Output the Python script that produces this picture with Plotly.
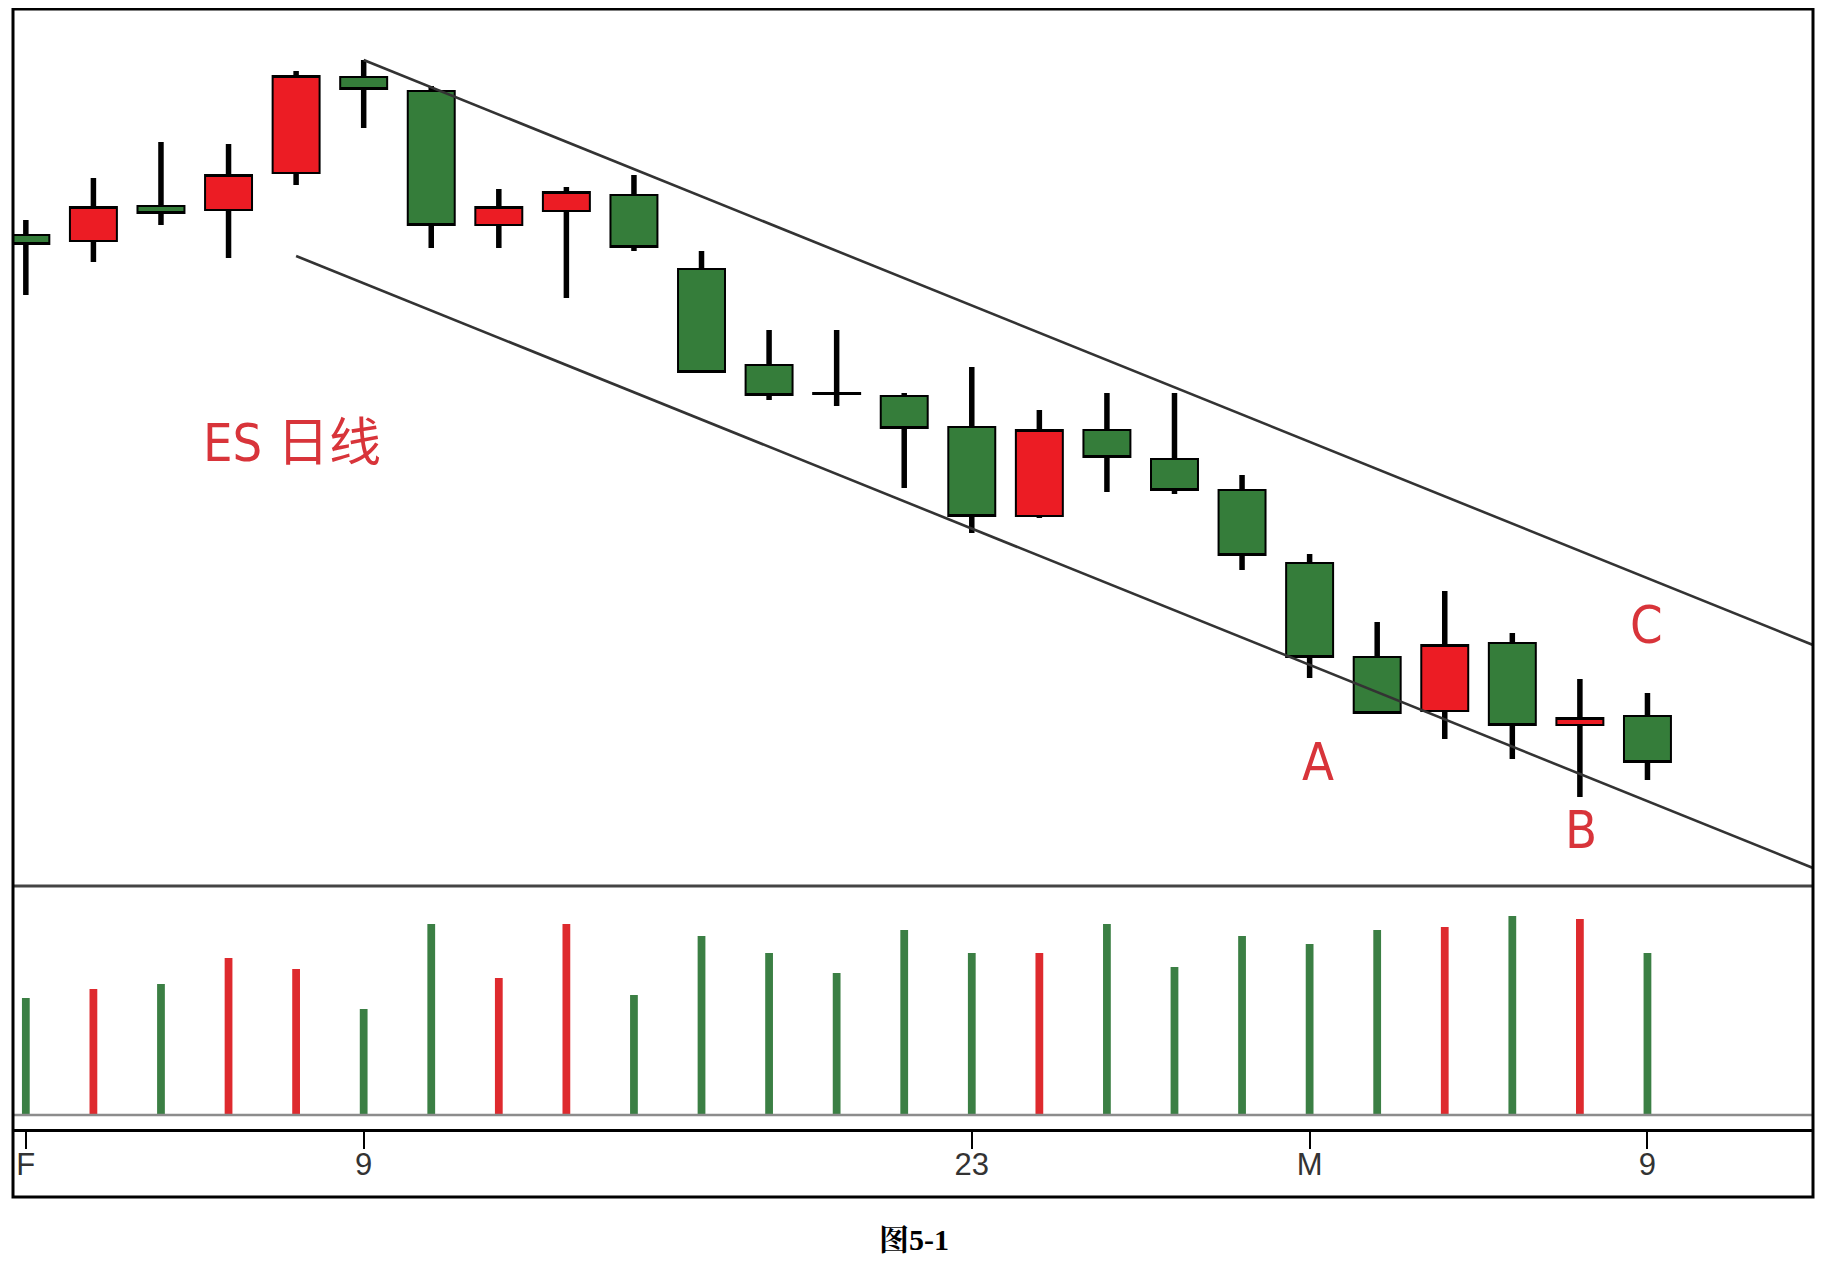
import plotly.graph_objects as go

# ES daily bars, price in index points (no axis labels in source)
bars = list(range(25))
tick_bars = [0, 5, 14, 19, 24]
tick_text = ["F", "9", "23", "M", "9"]

open_ = [1141.25, 1139.75, 1148.5, 1147.5, 1156.75, 1180.75, 1177.25, 1143.75, 1147.25, 1151.25,
         1132.75, 1108.75, 1101.75, 1101.0, 1093.25, 1071.0, 1092.5, 1085.25, 1077.5, 1059.25,
         1035.75, 1022.25, 1039.25, 1018.75, 1021.0]
high = [1145.0, 1155.5, 1164.5, 1164.0, 1182.25, 1185.0, 1178.5, 1152.75, 1153.25, 1156.25,
        1137.25, 1117.5, 1117.5, 1101.75, 1108.25, 1097.5, 1101.75, 1101.75, 1081.25, 1061.5,
        1044.5, 1052.25, 1041.75, 1030.25, 1026.75]
low = [1126.25, 1134.5, 1143.75, 1135.5, 1153.75, 1168.0, 1138.0, 1138.0, 1125.5, 1137.25,
       1107.0, 1100.0, 1098.5, 1078.0, 1066.75, 1070.5, 1077.0, 1076.5, 1057.5, 1030.5,
       1021.75, 1015.25, 1010.25, 1000.75, 1005.0]
close = [1139.0, 1148.25, 1146.75, 1156.25, 1181.0, 1177.75, 1143.75, 1148.25, 1152.0, 1138.25,
         1107.0, 1101.25, 1101.5, 1093.0, 1071.0, 1092.5, 1085.75, 1077.5, 1061.25, 1035.75,
         1021.75, 1038.75, 1018.75, 1020.5, 1009.5]
# volume, thousands of contracts
volume = [1170, 1260, 1310, 1570, 1460, 1060, 1910, 1370, 1910, 1200,
          1790, 1620, 1420, 1850, 1620, 1620, 1910, 1480, 1790, 1710,
          1850, 1880, 1990, 1960, 1620]

# down-sloping channel drawn on the chart
upper_x = [5, 26.45]
upper_y = [1185.0, 1038.75]
lower_x = [4, 26.45]
lower_y = [1136.0, 983.0]

labels = [
    ("ES 日线", 3.94, 1089.25),
    ("A", 19.12, 1009.5),
    ("B", 23.01, 992.5),
    ("C", 23.99, 1043.75),
]

RED = "#ec1c24"
GREEN = "#357d3a"
VOL_RED = "#de2a2e"
VOL_GREEN = "#3b7f44"
TEXT_RED = "#d8343a"
NARROW = "Liberation Sans Narrow, DejaVu Sans Condensed, Arial Narrow, Noto Sans CJK SC, sans-serif"

x_range = [-0.19, 26.45]

# wicks outside the body, so the thick stroke never crosses the filled box
wick_x, wick_y = [], []
for i, o, h, l, c in zip(bars, open_, high, low, close):
    wick_x += [i, i, None, i, i, None]
    wick_y += [h, max(o, c), None, min(o, c), l, None]

vol_colors = [VOL_RED if c > o else VOL_GREEN for o, c in zip(open_, close)]

fig = go.Figure()
fig.add_trace(go.Candlestick(
    x=bars, open=open_, high=high, low=low, close=close,
    increasing=dict(fillcolor=RED, line=dict(color="black", width=2)),
    decreasing=dict(fillcolor=GREEN, line=dict(color="black", width=2)),
    whiskerwidth=0, xaxis="x", yaxis="y", hoverinfo="skip",
))
fig.add_trace(go.Scatter(
    x=wick_x, y=wick_y, mode="lines", line=dict(color="black", width=5.5),
    xaxis="x", yaxis="y", hoverinfo="skip",
))
for xs, ys in ((upper_x, upper_y), (lower_x, lower_y)):
    fig.add_trace(go.Scatter(
        x=xs, y=ys, mode="lines", line=dict(color="#333333", width=2.6),
        xaxis="x", yaxis="y", hoverinfo="skip",
    ))
fig.add_trace(go.Bar(
    x=bars, y=volume, width=0.115, marker=dict(color=vol_colors, line=dict(width=0)),
    xaxis="x2", yaxis="y2", hoverinfo="skip",
))

for text, x, y in labels:
    fig.add_annotation(
        x=x, y=y, xref="x", yref="y", text=text, showarrow=False,
        xanchor="center", yanchor="middle",
        font=dict(family=NARROW, size=52, color=TEXT_RED),
    )

fig.add_annotation(
    x=0.5006, y=-0.0354, xref="paper", yref="paper", text="<b>图5-1</b>", showarrow=False,
    xanchor="center", yanchor="middle",
    font=dict(family="Liberation Serif, Noto Serif CJK SC, Noto Sans CJK SC, serif", size=30, color="black"),
)

sep_y = 0.2618
fig.add_shape(type="line", xref="paper", yref="paper", x0=0, x1=1, y0=sep_y, y1=sep_y,
              line=dict(color="#444444", width=3))
fig.add_shape(type="line", xref="paper", yref="y2", x0=0, x1=1, y0=0, y1=0,
              line=dict(color="#8c8c8c", width=2.5))
fig.add_shape(type="rect", xref="paper", yref="paper", x0=0, x1=1, y0=0, y1=1,
              line=dict(color="black", width=3))

# page body has an 8px margin, so the figure is 16px smaller than the window
fig.update_layout(
    width=1810, height=1252,
    margin=dict(l=5, r=5, t=1, b=63),
    paper_bgcolor="white", plot_bgcolor="white",
    showlegend=False, boxgap=0.305, boxgroupgap=0,
    xaxis=dict(domain=[0, 1], range=x_range, anchor="y", showticklabels=False, showgrid=False,
               zeroline=False, ticks="", rangeslider=dict(visible=False)),
    yaxis=dict(domain=[sep_y, 1], range=[978.5, 1197.75], visible=False),
    xaxis2=dict(domain=[0, 1], range=x_range, anchor="y2", showgrid=False, zeroline=False,
                tickmode="array", tickvals=tick_bars, ticktext=tick_text,
                ticks="outside", ticklen=17, tickwidth=2, tickcolor="black",
                ticklabelstandoff=-11,
                showline=True, linecolor="black", linewidth=3,
                tickfont=dict(family="Liberation Sans, Arial, sans-serif", size=31, color="#333333")),
    yaxis2=dict(domain=[0.0572, sep_y], range=[-140, 2290], visible=False),
)

fig.write_html("out.html")
